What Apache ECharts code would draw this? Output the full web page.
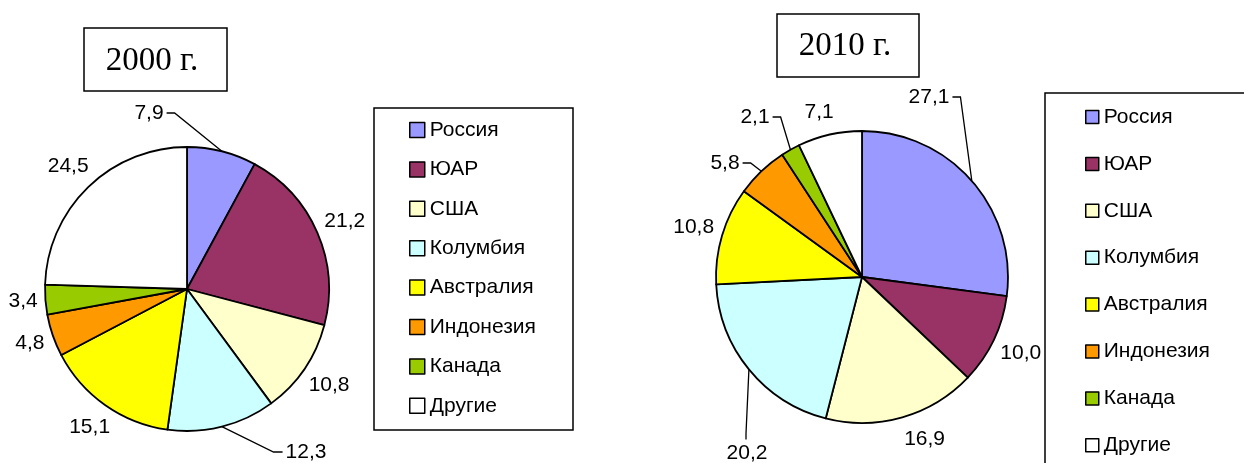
<!DOCTYPE html>
<html>
<head>
<meta charset="utf-8">
<script src="https://cdn.jsdelivr.net/npm/echarts@6/dist/echarts.min.js"></script>
<style>
  html, body { margin: 0; padding: 0; background: #fff; }
  #chart { width: 1244px; height: 463px; }
</style>
</head>
<body>
<div id="chart"></div>
<script>
// Coal export shares by country, %
const countries = ['Россия', 'ЮАР', 'США', 'Колумбия', 'Австралия', 'Индонезия', 'Канада', 'Другие'];
const share2000 = [7.9, 21.2, 10.8, 12.3, 15.1, 4.8, 3.4, 24.5];
const share2010 = [27.1, 10.0, 16.9, 20.2, 10.8, 5.8, 2.1, 7.1];
const yearTitles = ['2000 г.', '2010 г.'];
const sliceColors = ['#9999FF', '#993366', '#FFFFCC', '#CCFFFF', '#FFFF00', '#FF9900', '#99CC00', '#FFFFFF'];

const SANS = '"Liberation Sans", Arial, sans-serif';
const SERIF = '"Liberation Serif", "Times New Roman", serif';
const FONT_SIZE = 21;

// Pie geometry and label callouts (labels pulled away from the slice with a leader line)
const pies = [
  {
    values: share2000, center: [187, 289], radius: 142,
    callouts: { 0: { x: 149, y: 113, side: 'right' }, 3: { x: 306, y: 452, side: 'left' } },
    nudges: {}
  },
  {
    values: share2010, center: [862, 277], radius: 146,
    callouts: {
      0: { x: 929, y: 97, side: 'right' },
      3: { x: 747, y: 453, side: 'top' },
      5: { x: 725, y: 163, side: 'right' },
      6: { x: 755, y: 117, side: 'right' }
    },
    nudges: { 2: [16, 0], 7: [-6, -2] }
  }
];

function midAngles(values) {
  const total = values.reduce((s, v) => s + v, 0);
  let acc = 0;
  return values.map(v => {
    const deg = 90 - (acc + v / 2) / total * 360;
    acc += v;
    return deg * Math.PI / 180;
  });
}
pies.forEach(p => { p.angles = midAngles(p.values); });

const fmt = v => v.toFixed(1).replace('.', ',');

function placeLabel(params) {
  const p = pies[params.seriesIndex];
  const i = params.dataIndex;
  const a = p.angles[i];
  const cos = Math.cos(a), sin = Math.sin(a);
  const w = params.labelRect.width, h = params.labelRect.height;
  const edge = [p.center[0] + p.radius * cos, p.center[1] - p.radius * sin];
  const c = p.callouts[i];
  if (c) {
    let pts;
    if (c.side === 'right') {
      const rx = c.x + w / 2;
      pts = [edge, [rx + 11, c.y], [rx + 3, c.y]];
    } else if (c.side === 'left') {
      const lx = c.x - w / 2;
      pts = [edge, [lx - 12, c.y], [lx - 3, c.y]];
    } else {
      const ty = c.y - h / 2;
      pts = [edge, [c.x - 1, ty - 9], [c.x - 1, ty - 3]];
    }
    return { x: c.x, y: c.y, align: 'center', verticalAlign: 'middle', labelLinePoints: pts };
  }
  const d = p.radius + (w / 2) * Math.abs(cos) + (h / 2) * Math.abs(sin) + 7;
  const n = p.nudges[i] || [0, 0];
  return {
    x: p.center[0] + d * cos + n[0],
    y: p.center[1] - d * sin + n[1],
    align: 'center',
    verticalAlign: 'middle'
  };
}

function pieSeries(idx) {
  const p = pies[idx];
  return {
    type: 'pie',
    name: yearTitles[idx],
    center: p.center,
    radius: p.radius,
    startAngle: 90,
    clockwise: true,
    avoidLabelOverlap: false,
    silent: true,
    itemStyle: { borderColor: '#000', borderWidth: 1.8 },
    label: {
      show: true,
      position: 'outside',
      color: '#000',
      fontFamily: SANS,
      fontSize: FONT_SIZE,
      lineHeight: FONT_SIZE,
      formatter: prm => fmt(prm.value)
    },
    labelLine: { show: false, length: 10, length2: 10, lineStyle: { color: '#000', width: 1.3 } },
    labelLayout: placeLabel,
    emphasis: { disabled: true },
    data: countries.map((name, i) => ({
      name,
      value: p.values[i],
      itemStyle: { color: sliceColors[i] },
      labelLine: { show: !!p.callouts[i] }
    }))
  };
}

function legendAt(left, top, size, gap) {
  return {
    data: countries,
    orient: 'vertical',
    left, top,
    padding: 0,
    icon: 'rect',
    itemWidth: size,
    itemHeight: size,
    itemGap: gap,
    selectedMode: false,
    itemStyle: { borderColor: '#000', borderWidth: 1.5 },
    textStyle: { fontFamily: SANS, fontSize: FONT_SIZE, lineHeight: FONT_SIZE, color: '#000' }
  };
}

const boxStyle = { fill: '#fff', stroke: '#000', lineWidth: 1.5 };

const chart = echarts.init(document.getElementById('chart'), null, { renderer: 'canvas' });
chart.setOption({
  animation: false,
  backgroundColor: '#fff',
  color: sliceColors,
  legend: [legendAt(409, 119.5, 15, 18.4), legendAt(1085, 106.5, 13, 25.9)],
  graphic: [
    { type: 'rect', z: 0, shape: { x: 84, y: 28, width: 143, height: 63 }, style: boxStyle },
    { type: 'text', z: 1, style: { x: 152, y: 61, text: yearTitles[0], font: '33px ' + SERIF, align: 'center', verticalAlign: 'middle', fill: '#000' } },
    { type: 'rect', z: 0, shape: { x: 777, y: 14, width: 142, height: 63 }, style: boxStyle },
    { type: 'text', z: 1, style: { x: 845, y: 46, text: yearTitles[1], font: '33px ' + SERIF, align: 'center', verticalAlign: 'middle', fill: '#000' } },
    { type: 'rect', z: 0, shape: { x: 374, y: 108, width: 199, height: 322 }, style: boxStyle },
    { type: 'rect', z: 0, shape: { x: 1045, y: 93, width: 300, height: 500 }, style: boxStyle }
  ],
  series: [pieSeries(0), pieSeries(1)]
});
</script>
</body>
</html>
